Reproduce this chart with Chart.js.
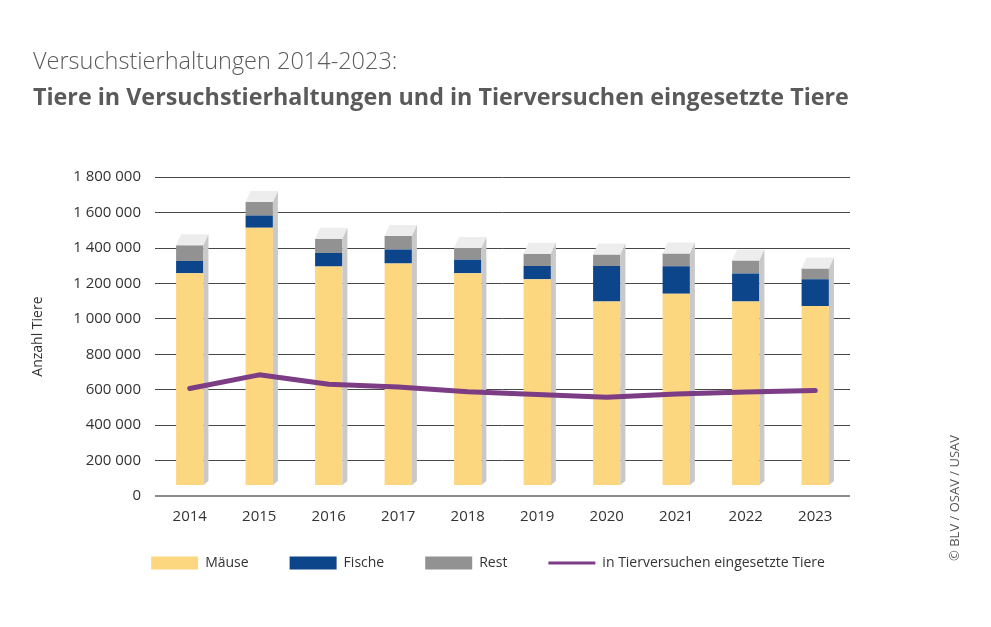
<!DOCTYPE html>
<html>
<head>
<meta charset="utf-8">
<script src="https://cdn.jsdelivr.net/npm/chart.js@4/dist/chart.umd.min.js"></script>
<style>
  html, body { margin: 0; padding: 0; background: #ffffff; }
  #wrap { position: relative; width: 991px; height: 627px; }
  canvas { display: block; }
</style>
</head>
<body>
<div id="wrap"><canvas id="c" width="991" height="627"></canvas></div>
<script>
// ---- data ----
const years = ['2014', '2015', '2016', '2017', '2018', '2019', '2020', '2021', '2022', '2023'];
const maeuse = [1257000, 1515000, 1295000, 1313000, 1257000, 1224000, 1098000, 1142000, 1098000, 1072000];
const fische = [70000, 68000, 77000, 78000, 77000, 74000, 200000, 155000, 158000, 151000];
const rest = [89000, 77000, 81000, 77000, 66000, 70000, 66000, 72000, 74000, 61000];
const tierversuche = [607000, 684000, 631000, 616000, 588000, 573000, 557000, 576000, 587000, 595000];
const seriesNames = ['Mäuse', 'Fische', 'Rest', 'in Tierversuchen eingesetzte Tiere'];
const titleText = 'Versuchstierhaltungen 2014-2023:';
const subtitleText = 'Tiere in Versuchstierhaltungen und in Tierversuchen eingesetzte Tiere';
const yAxisTitle = 'Anzahl Tiere';
const copyrightText = '© BLV / OSAV / USAV';
const yMin = 0, yMax = 1800000, yStep = 200000;

const FONT = "'Open Sans', 'Noto Sans', 'DejaVu Sans', sans-serif";
const COL_M = '#fdd680', COL_F = '#0d458a', COL_R = '#929292', COL_L = '#7c3d85';
const DEPTH_X = 5, DEPTH_Y = 11;

function fmt(v) { return String(v).replace(/\B(?=(\d{3})+(?!\d))/g, ' '); }

const threeD = {
  id: 'threeD',
  beforeDatasetDraw(chart, args) {
    if (args.meta.type !== 'bar') return;
    const ctx = chart.ctx, y0 = chart.scales.y.getPixelForValue(0);
    ctx.save();
    ctx.beginPath();
    ctx.rect(0, 0, chart.width, y0 - DEPTH_Y);
    ctx.clip();
  },
  afterDatasetDraw(chart, args) {
    if (args.meta.type !== 'bar') return;
    const ctx = chart.ctx;
    ctx.restore();
    if (args.index !== 0) return;
    const y0 = chart.scales.y.getPixelForValue(0) - DEPTH_Y;
    const topMeta = chart.getDatasetMeta(2);
    topMeta.data.forEach((el) => {
      const p = el.getProps(['x', 'y', 'width'], true);
      const xl = p.x - p.width / 2, xr = p.x + p.width / 2, yt = p.y;
      ctx.save();
      ctx.fillStyle = '#ededed';
      ctx.beginPath();
      ctx.moveTo(xl, yt);
      ctx.lineTo(xl + DEPTH_X, yt - DEPTH_Y);
      ctx.lineTo(xr + DEPTH_X, yt - DEPTH_Y);
      ctx.lineTo(xr, yt);
      ctx.closePath();
      ctx.fill();
      ctx.fillStyle = '#c9c9c9';
      ctx.beginPath();
      ctx.moveTo(xr, yt);
      ctx.lineTo(xr + DEPTH_X, yt - DEPTH_Y);
      ctx.lineTo(xr + DEPTH_X, y0 - 4);
      ctx.lineTo(xr, y0);
      ctx.closePath();
      ctx.fill();
      ctx.restore();
    });
  }
};

const extras = {
  id: 'extras',
  afterLayout(chart) {
    const lg = chart.legend;
    if (lg) {
      const dx = 488 - (lg.left + lg.right) / 2;
      lg.left += dx; lg.right += dx;
      const dy = 515 - lg.top;
      lg.top += dy; lg.bottom += dy;
    }
  },
  afterDraw(chart) {
    const ctx = chart.ctx;
    ctx.save();
    ctx.translate(955, 498);
    ctx.rotate(-Math.PI / 2);
    ctx.font = '13px ' + FONT;
    ctx.fillStyle = '#555555';
    ctx.textAlign = 'center';
    ctx.textBaseline = 'middle';
    ctx.fillText(copyrightText, 0, 0);
    ctx.restore();
  }
};

new Chart(document.getElementById('c'), {
  data: {
    labels: years,
    datasets: [
      { type: 'bar', label: seriesNames[0], data: maeuse, backgroundColor: COL_M, borderWidth: 0, stack: 's', order: 0 },
      { type: 'bar', label: seriesNames[1], data: fische, backgroundColor: COL_F, borderWidth: 0, stack: 's', order: 0 },
      { type: 'bar', label: seriesNames[2], data: rest, backgroundColor: COL_R, borderWidth: 0, stack: 's', order: 0 },
      { type: 'line', label: seriesNames[3], data: tierversuche, borderColor: COL_L, backgroundColor: COL_L,
        borderWidth: 5, pointRadius: 0, tension: 0, borderCapStyle: 'round', borderJoinStyle: 'round', order: -1 }
    ]
  },
  options: {
    responsive: false,
    animation: false,
    layout: { padding: { left: 33, right: 141, top: 48, bottom: 32 } },
    datasets: { bar: { barPercentage: 0.393, categoryPercentage: 1 } },
    scales: {
      x: {
        stacked: true,
        grid: { display: false },
        border: { display: false },
        ticks: { color: '#333333', font: { family: FONT, size: 15 }, padding: 4, maxRotation: 0, autoSkip: false }
      },
      y: {
        stacked: true,
        min: yMin, max: yMax,
        border: { display: false },
        grid: {
          drawTicks: false,
          color: (c) => c.tick && c.tick.value === 0 ? '#8c8c8c' : '#474747',
          lineWidth: (c) => c.tick && c.tick.value === 0 ? 2 : 1
        },
        ticks: { stepSize: yStep, color: '#333333', font: { family: FONT, size: 15 }, padding: 14,
          callback: (v) => fmt(v) },
        title: { display: true, text: yAxisTitle, color: '#333333', font: { family: FONT, size: 14 }, padding: { top: -3, bottom: 0 } },
        afterFit(s) { s.width = 122; }
      }
    },
    plugins: {
      title: { display: true, text: titleText, align: 'start', color: '#5a5a5a',
        font: { family: FONT, size: 23.5, weight: '300' }, padding: { top: 0, bottom: 8 } },
      subtitle: { display: true, text: subtitleText, align: 'start', color: '#5a5a5a',
        font: { family: FONT, size: 23.3, weight: 'bold' }, padding: { top: 0, bottom: 65 } },
      tooltip: { enabled: false },
      legend: {
        position: 'bottom',
        labels: {
          usePointStyle: true, pointStyleWidth: 47, boxHeight: 13, padding: 41,
          color: '#333333', font: { family: FONT, size: 14 },
          sort: (a, b) => a.datasetIndex - b.datasetIndex,
          generateLabels(chart) {
            const items = Chart.defaults.plugins.legend.labels.generateLabels(chart);
            items.forEach((it) => {
              const ds = chart.data.datasets[it.datasetIndex];
              if (ds.type === 'line') {
                it.pointStyle = 'line'; it.lineWidth = 3; it.strokeStyle = COL_L; it.fillStyle = COL_L;
              } else {
                it.pointStyle = 'rect'; it.lineWidth = 0; it.fillStyle = ds.backgroundColor;
              }
            });
            return items;
          }
        }
      }
    }
  },
  plugins: [threeD, extras]
});
</script>
</body>
</html>
